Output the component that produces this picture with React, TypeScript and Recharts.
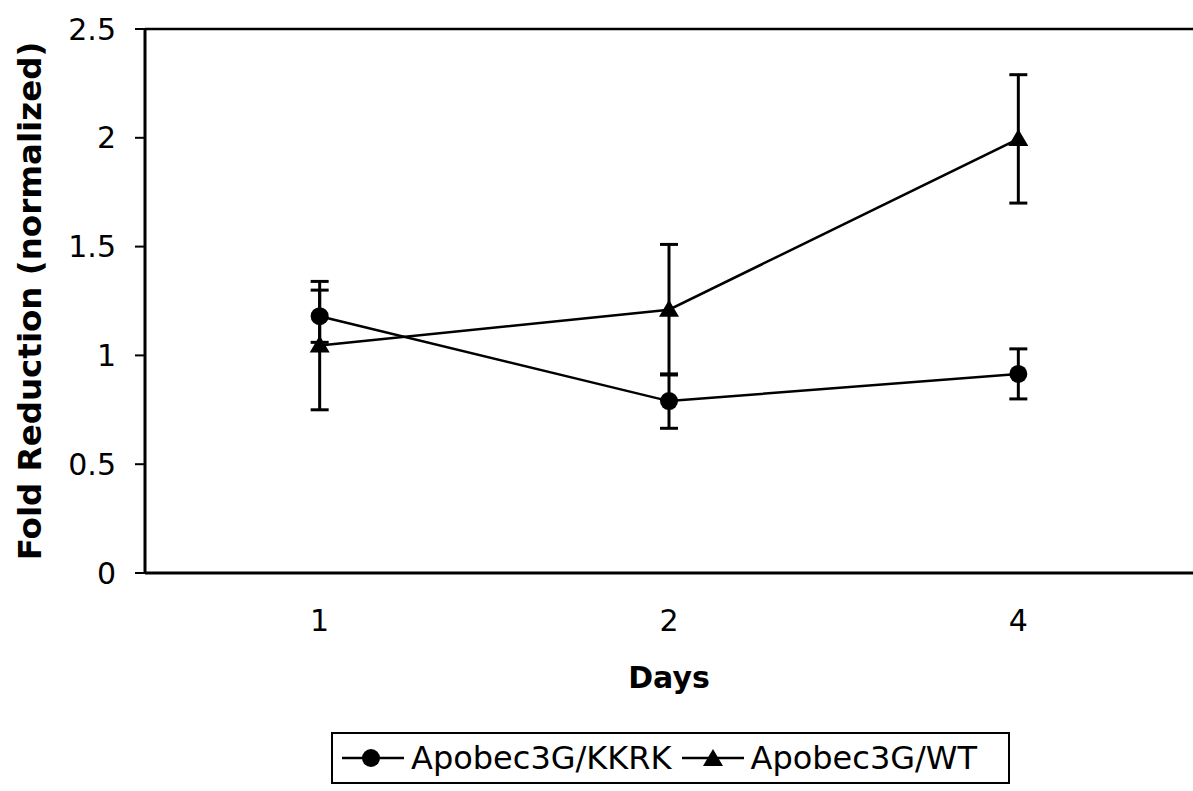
import { LineChart, Line, XAxis, YAxis, ErrorBar, ReferenceLine, Legend } from 'recharts';

// values
const DAYS = ['1', '2', '4'];
const KKRK = [1.18, 0.79, 0.915];
const KKRK_ERR = [0.12, 0.125, 0.115];
const WT = [1.045, 1.21, 1.995];
const WT_ERR = [0.295, 0.3, 0.295];
const Y_TICKS = [0, 0.5, 1, 1.5, 2, 2.5];
const EDGE_TICKS = [0, 1, 2, 3];
const SERIES_NAMES = ['Apobec3G/KKRK', 'Apobec3G/WT'];

const FONT = '"DejaVu Sans", Verdana, sans-serif';

const chartData = DAYS.map((day, i) => ({
  day,
  kkrk: KKRK[i],
  kkrkErr: KKRK_ERR[i],
  wt: WT[i],
  wtErr: WT_ERR[i],
}));

const Circle = (props: any) => {
  const { cx, cy } = props;
  if (cx == null || cy == null) return null;
  return <circle cx={cx} cy={cy} r={9} fill="#000" />;
};

const Triangle = (props: any) => {
  const { cx, cy } = props;
  if (cx == null || cy == null) return null;
  return <path d={`M${cx},${cy - 10} L${cx + 10},${cy + 7} L${cx - 10},${cy + 7} Z`} fill="#000" />;
};

const renderLegend = () => (
  <div
    style={{
      boxSizing: 'border-box',
      width: 679,
      height: 52,
      border: '2px solid #000',
      display: 'flex',
      alignItems: 'center',
      paddingLeft: 9,
      fontFamily: FONT,
      fontSize: 32,
      color: '#000',
      whiteSpace: 'nowrap',
    }}
  >
    {SERIES_NAMES.map((name, i) => (
      <div key={name} style={{ display: 'flex', alignItems: 'center', marginRight: 10 }}>
        <svg width={62} height={22}>
          <line x1={0} y1={11} x2={62} y2={11} stroke="#000" strokeWidth={2.5} />
          {i === 0 ? (
            <circle cx={29} cy={11} r={9} fill="#000" />
          ) : (
            <path d="M31,2 L41,19 L21,19 Z" fill="#000" />
          )}
        </svg>
        <span style={{ marginLeft: 7 }}>{name}</span>
      </div>
    ))}
  </div>
);

export default function App() {
  return (
    <div style={{ position: 'absolute', left: 0, top: 0, background: '#fff' }}>
      <LineChart
        width={1193}
        height={791}
        data={chartData}
        margin={{ top: 29, right: 0, left: 0, bottom: 98 }}
      >
        {/* boundary tick marks between the day categories */}
        <XAxis
          xAxisId="edge"
          type="number"
          domain={[0, 3]}
          allowDataOverflow
          ticks={EDGE_TICKS}
          height={0}
          axisLine={false}
          tickSize={10}
          tickLine={{ stroke: '#000', strokeWidth: 2 }}
          tick={() => <g />}
        />
        <XAxis
          dataKey="day"
          scale="band"
          height={120}
          tickSize={0}
          tickMargin={37}
          axisLine={{ stroke: '#000', strokeWidth: 3 }}
          tickLine={false}
          tick={{ fill: '#000', fontSize: 30, fontFamily: FONT }}
          label={{
            value: 'Days',
            position: 'insideTop',
            offset: 94,
            style: { fill: '#000', fontSize: 30, fontWeight: 'bold', fontFamily: FONT },
          }}
        />
        <YAxis
          domain={[0, 2.5]}
          ticks={Y_TICKS}
          width={145}
          tickSize={10}
          tickMargin={19}
          axisLine={{ stroke: '#000', strokeWidth: 3 }}
          tickLine={{ stroke: '#000', strokeWidth: 2 }}
          tick={{ fill: '#000', fontSize: 30, fontFamily: FONT }}
          label={{
            value: 'Fold Reduction (normalized)',
            angle: -90,
            position: 'insideLeft',
            offset: 29,
            style: { textAnchor: 'middle', fill: '#000', fontSize: 32.5, fontWeight: 'bold', fontFamily: FONT },
          }}
        />
        <ReferenceLine y={2.5} stroke="#000" strokeWidth={2.5} />
        <Line
          dataKey="kkrk"
          name={SERIES_NAMES[0]}
          stroke="#000"
          strokeWidth={2.5}
          dot={<Circle />}
          activeDot={false}
          isAnimationActive={false}
        >
          <ErrorBar dataKey="kkrkErr" width={9} stroke="#000" strokeWidth={3} />
        </Line>
        <Line
          dataKey="wt"
          name={SERIES_NAMES[1]}
          stroke="#000"
          strokeWidth={2.5}
          dot={<Triangle />}
          activeDot={false}
          isAnimationActive={false}
        >
          <ErrorBar dataKey="wtErr" width={9} stroke="#000" strokeWidth={3} />
        </Line>
        <Legend
          layout="horizontal"
          verticalAlign="middle"
          align="center"
          wrapperStyle={{ left: 331, top: 732, width: 679, height: 52 }}
          content={renderLegend}
        />
      </LineChart>
    </div>
  );
}
